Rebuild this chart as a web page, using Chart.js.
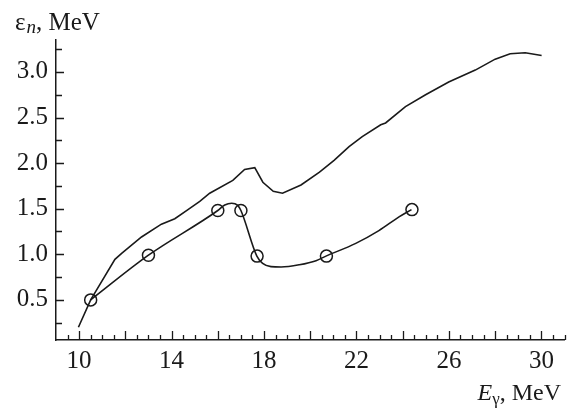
<!DOCTYPE html>
<html>
<head>
<meta charset="utf-8">
<script src="https://cdn.jsdelivr.net/npm/chart.js@4.4.1/dist/chart.umd.min.js"></script>
<style>
html,body{margin:0;padding:0;background:#fff;}
#wrap{width:572px;height:411px;position:relative;}
</style>
</head>
<body>
<div id="wrap"><canvas id="c" width="572" height="411"></canvas></div>
<script>
// Upper curve (no markers)
const upperX = [9.97, 10.5, 11.55, 11.84, 12.70, 13.56, 14.14, 14.71, 15.22, 15.65, 16.65, 17.16, 17.6, 17.95, 18.4, 18.8, 19.6, 20.4, 21.03, 21.68, 22.25, 23.05, 23.26, 24.12, 24.99, 25.99, 27.14, 28.0, 28.65, 29.3, 30.01];
const upperY = [0.20, 0.50, 0.945, 1.01, 1.19, 1.33, 1.39, 1.49, 1.58, 1.67, 1.81, 1.93, 1.95, 1.79, 1.69, 1.67, 1.76, 1.90, 2.03, 2.18, 2.29, 2.42, 2.44, 2.62, 2.75, 2.89, 3.02, 3.14, 3.20, 3.21, 3.18];
// Lower smooth curve
const lowerX = [10.5, 13.0, 16.0, 16.3, 16.6, 16.85, 17.0, 17.69, 17.94, 18.3, 18.74, 19.53, 20.25, 20.68, 21.97, 22.97, 23.84, 24.38];
const lowerY = [0.50, 0.99, 1.48, 1.54, 1.56, 1.54, 1.48, 0.98, 0.90, 0.865, 0.86, 0.885, 0.93, 0.98, 1.12, 1.26, 1.41, 1.49];
// Measured points (circles)
const pointX = [10.5, 13.0, 16.0, 17.0, 17.7, 20.7, 24.4];
const pointY = [0.50, 0.99, 1.48, 1.48, 0.98, 0.98, 1.49];
// Tick labels
const xTickLabels = [10, 14, 18, 22, 26, 30];
const yTickLabels = [0.5, 1.0, 1.5, 2.0, 2.5, 3.0];

const FONT = '"Liberation Serif", "Times New Roman", serif';
const INK = '#1a1a1a';

const zip = (xs, ys) => xs.map((x, i) => ({x: x, y: ys[i]}));

const innerTicks = {
  id: 'innerTicks',
  afterDraw(chart) {
    const ctx = chart.ctx;
    const xs = chart.scales.x, ys = chart.scales.y;
    const area = chart.chartArea;
    ctx.save();
    ctx.strokeStyle = INK;
    ctx.lineWidth = 1.3;
    ctx.beginPath();
    for (let v = 9.5; v <= 31.001; v += 0.5) {
      const px = Math.round(xs.getPixelForValue(v)) + 0.5;
      const len = (Math.abs(v % 2) < 1e-6) ? 9 : 5;
      ctx.moveTo(px, area.bottom);
      ctx.lineTo(px, area.bottom - len);
    }
    for (let v = 0.25; v <= 3.2501; v += 0.25) {
      const py = Math.round(ys.getPixelForValue(v)) + 0.5;
      const len = (Math.abs((v * 2) % 1) < 1e-6) ? 8 : 6;
      ctx.moveTo(area.left, py);
      ctx.lineTo(area.left + len, py);
    }
    ctx.stroke();

    // Axis titles
    ctx.fillStyle = INK;
    ctx.textBaseline = 'alphabetic';
    // top-left: ε_n, MeV
    let x = 15, base = 30;
    ctx.font = '25px ' + FONT;
    ctx.fillText('ε', x, base); x += ctx.measureText('ε').width + 1;
    ctx.font = 'italic 19px ' + FONT;
    ctx.fillText('n', x, base + 3); x += ctx.measureText('n').width;
    ctx.font = '25px ' + FONT;
    ctx.fillText(', MeV', x, base);

    // bottom-right: E_γ, MeV
    const parts = [
      {t: 'E', f: 'italic 24px ' + FONT, dy: 0},
      {t: 'γ', f: '17px ' + FONT, dy: 4},
      {t: ', MeV', f: '24px ' + FONT, dy: 0}
    ];
    let total = 0;
    parts.forEach(p => { ctx.font = p.f; p.w = ctx.measureText(p.t).width; total += p.w; });
    x = 561 - total; base = 400;
    parts.forEach(p => { ctx.font = p.f; ctx.fillText(p.t, x, base + p.dy); x += p.w; });
    ctx.restore();
  }
};

new Chart(document.getElementById('c'), {
  type: 'line',
  data: {
    datasets: [
      {
        label: 'upper',
        data: zip(upperX, upperY),
        borderColor: INK,
        borderWidth: 1.6,
        pointRadius: 0,
        tension: 0,
        fill: false
      },
      {
        label: 'lower',
        data: zip(lowerX, lowerY),
        borderColor: INK,
        borderWidth: 1.6,
        pointRadius: 0,
        cubicInterpolationMode: 'monotone',
        fill: false
      },
      {
        label: 'points',
        data: zip(pointX, pointY),
        showLine: false,
        borderColor: INK,
        backgroundColor: 'rgba(0,0,0,0)',
        pointRadius: 6,
        pointBorderWidth: 1.5,
        pointBorderColor: INK,
        pointBackgroundColor: 'rgba(0,0,0,0)'
      }
    ]
  },
  options: {
    responsive: false,
    animation: false,
    layout: {padding: {top: 40, right: 6, bottom: 0, left: 0}},
    plugins: {legend: {display: false}, tooltip: {enabled: false}},
    scales: {
      x: {
        type: 'linear',
        min: 9, max: 31,
        afterFit(s) { s.height = 71; },
        afterBuildTicks(s) { s.ticks = xTickLabels.map(v => ({value: v})); },
        grid: {drawOnChartArea: false, drawTicks: false},
        border: {display: true, color: INK, width: 1.5},
        ticks: {
          color: INK, padding: 6,
          font: {family: FONT, size: 25},
          maxRotation: 0, autoSkip: false,
          callback: v => String(v)
        }
      },
      y: {
        type: 'linear',
        min: 0.06, max: 3.35,
        afterFit(s) { s.width = 56; },
        afterBuildTicks(s) { s.ticks = yTickLabels.map(v => ({value: v})); },
        grid: {drawOnChartArea: false, drawTicks: false},
        border: {display: true, color: INK, width: 1.5},
        ticks: {
          color: INK, padding: 8,
          font: {family: FONT, size: 25},
          autoSkip: false,
          callback: v => Number(v).toFixed(1)
        }
      }
    }
  },
  plugins: [innerTicks]
});
</script>
</body>
</html>
